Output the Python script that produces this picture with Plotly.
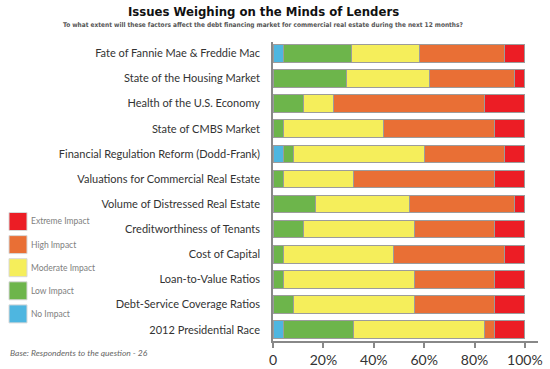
import plotly.graph_objects as go

categories = [
    "Fate of Fannie Mae & Freddie Mac",
    "State of the Housing Market",
    "Health of the U.S. Economy",
    "State of CMBS Market",
    "Financial Regulation Reform (Dodd-Frank)",
    "Valuations for Commercial Real Estate",
    "Volume of Distressed Real Estate",
    "Creditworthiness of Tenants",
    "Cost of Capital",
    "Loan-to-Value Ratios",
    "Debt-Service Coverage Ratios",
    "2012 Presidential Race",
]
no_impact       = [4, 0, 0, 0, 4, 0, 0, 0, 0, 0, 0, 4]
low_impact      = [27, 29, 12, 4, 4, 4, 17, 12, 4, 4, 8, 28]
moderate_impact = [27, 33, 12, 40, 52, 28, 37, 44, 44, 52, 48, 52]
high_impact     = [34, 34, 60, 44, 32, 56, 42, 32, 44, 32, 32, 4]
extreme_impact  = [8, 4, 16, 12, 8, 12, 4, 12, 8, 12, 12, 12]

series_names = ["No Impact", "Low Impact", "Moderate Impact", "High Impact", "Extreme Impact"]
series_vals = [no_impact, low_impact, moderate_impact, high_impact, extreme_impact]
series_colors = ["#4EB6E0", "#6DB54B", "#F5EE5B", "#E96F35", "#EC1D25"]

tick_vals = [0, 20, 40, 60, 80, 100]
tick_text = ["0", "20%", "40%", "60%", "80%", "100%"]

W, H = 550, 369
L, R, T, B = 273, 538, 42, 341

fig = go.Figure()
for name, vals, col in zip(series_names, series_vals, series_colors):
    fig.add_trace(go.Bar(
        y=categories, x=vals, name=name, orientation="h",
        marker=dict(color=col, line=dict(color="#9c9c9c", width=1)),
        showlegend=False,
    ))

def px(x):
    return (x - L) / (R - L)

def py(y):
    return (B - y) / (B - T)

COND = "DejaVu Sans Condensed, Liberation Sans Narrow, Liberation Sans"

shapes = []
annotations = []
legend_order = list(zip(series_names, series_colors))[::-1]
for i, (name, col) in enumerate(legend_order):
    top = 212.5 + i * 23.1
    shapes.append(dict(type="rect", xref="paper", yref="paper",
                       x0=px(9), x1=px(27), y0=py(top + 18), y1=py(top),
                       fillcolor=col, line=dict(color="#d8d8d8", width=1)))
    annotations.append(dict(x=px(29), y=py(top + 9), xref="paper", yref="paper",
                            text=name, showarrow=False, xanchor="left", yanchor="middle",
                            font=dict(family="Lato", size=8.5, color="#808080")))

annotations.append(dict(x=px(8), y=py(353), xref="paper", yref="paper",
                        text="<i>Base: Respondents to the question - 26</i>", showarrow=False,
                        xanchor="left", yanchor="middle",
                        font=dict(family="Lato", size=8.5, color="#666666")))
annotations.append(dict(x=px(263), y=py(11), xref="paper", yref="paper",
                        text="<b>Issues Weighing on the Minds of Lenders</b>", showarrow=False,
                        xanchor="center", yanchor="middle",
                        font=dict(family=COND, size=13, color="#111111")))
annotations.append(dict(x=px(263), y=py(25), xref="paper", yref="paper",
                        text="<b>To what extent will these factors affect the debt financing market for commercial real estate during the next 12 months?</b>",
                        showarrow=False, xanchor="center", yanchor="middle",
                        font=dict(family=COND, size=6.5, color="#555555")))

fig.update_layout(
    barmode="stack", bargap=0.3,
    width=W, height=H,
    margin=dict(l=L, r=W - R, t=T, b=H - B, pad=0),
    paper_bgcolor="white", plot_bgcolor="white",
    shapes=shapes, annotations=annotations,
    font=dict(family="Lato", color="#333333"),
    xaxis=dict(range=[0, 105.2], tickvals=tick_vals, ticktext=tick_text, automargin=False,
               showgrid=False, zeroline=False, showline=True, linecolor="#888888", linewidth=1.5,
               ticks="outside", ticklen=5, tickcolor="#888888", tickwidth=1.5,
               tickfont=dict(family="Lato", size=14, color="#333333")),
    yaxis=dict(autorange=False, range=[11.45, -0.45], showgrid=False, zeroline=False, automargin=False,
               showline=True, linecolor="#888888", linewidth=1.5, ticks="",
               ticklabelstandoff=9,
               tickfont=dict(family="Lato", size=11, color="#333333")),
)

fig.write_html("out.html", config={"displayModeBar": False},
               post_script="document.body.style.margin='0';document.body.style.overflow='hidden';")
